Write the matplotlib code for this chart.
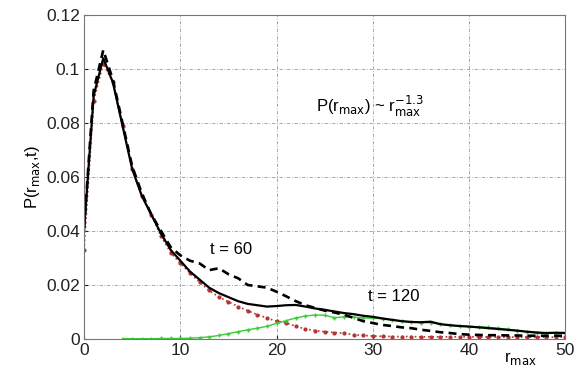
import numpy as np
import matplotlib
matplotlib.use("Agg")
from matplotlib import pyplot as plt

# r_max bins (0..50)
r = np.arange(0, 51)

# solid black curve
p_solid = [0.040, 0.090, 0.104, 0.095, 0.079, 0.063, 0.053, 0.046, 0.039, 0.033,
           0.029, 0.025, 0.022, 0.019, 0.017, 0.0155, 0.014, 0.013, 0.0125, 0.012,
           0.0122, 0.0125, 0.0126, 0.012, 0.0113, 0.0108, 0.0102, 0.0096, 0.0092, 0.0086,
           0.0082, 0.0076, 0.0071, 0.0066, 0.0063, 0.0062, 0.0064, 0.0055, 0.0051, 0.0048,
           0.0046, 0.0043, 0.0040, 0.0037, 0.0034, 0.0031, 0.0027, 0.0024, 0.0022, 0.0023,
           0.0022]

# dashed black curve
p_dashed = [0.041, 0.092, 0.107, 0.096, 0.080, 0.064, 0.054, 0.046, 0.040, 0.034,
            0.031, 0.029, 0.028, 0.0255, 0.0262, 0.024, 0.0225, 0.020, 0.0195, 0.019,
            0.0175, 0.0158, 0.014, 0.0125, 0.0115, 0.0105, 0.0098, 0.009, 0.0078, 0.0066,
            0.0059, 0.0052, 0.0048, 0.0043, 0.0040, 0.0034, 0.0030, 0.0025, 0.0022, 0.0018,
            0.0016, 0.0015, 0.0014, 0.0014, 0.0013, 0.0013, 0.0012, 0.0012, 0.0012, 0.0012,
            0.0012]

# red dotted curve
p_red = [0.033, 0.088, 0.102, 0.095, 0.079, 0.063, 0.053, 0.046, 0.038, 0.032,
         0.028, 0.0245, 0.021, 0.018, 0.0155, 0.0138, 0.012, 0.0105, 0.009, 0.0078,
         0.0065, 0.0060, 0.0047, 0.0037, 0.0031, 0.0027, 0.0024, 0.0021, 0.0016, 0.0013,
         0.0011, 0.0010, 0.0009, 0.0009, 0.0009, 0.0008, 0.0008, 0.0008, 0.0008, 0.0008,
         0.0008, 0.0008, 0.0007, 0.0007, 0.0007, 0.0007, 0.0007, 0.0007, 0.0007, 0.0007,
         0.0007]

# green curve (starts at r = 4)
r_green = np.arange(4, 51)
p_green = [0.0001, 0.0001, 0.0001, 0.0001, 0.0002, 0.0002, 0.0002, 0.0003,
           0.0005, 0.0008, 0.0013, 0.0020, 0.0027, 0.0034, 0.0040, 0.0047,
           0.0058, 0.0068, 0.0078, 0.0085, 0.0089, 0.0088, 0.0079, 0.0082, 0.0081, 0.0078,
           0.0077, 0.0075, 0.0070, 0.0066, 0.0062, 0.0061, 0.0060, 0.0055, 0.0050, 0.0048,
           0.0046, 0.0045, 0.0043, 0.0040, 0.0036, 0.0030, 0.0026, 0.0022, 0.0023, 0.0024,
           0.0024]

x_ticks = [0, 10, 20, 30, 40, 50]
y_ticks = [0, 0.02, 0.04, 0.06, 0.08, 0.1, 0.12]
y_tick_labels = ["0", "0.02", "0.04", "0.06", "0.08", "0.1", "0.12"]

plt.rcParams["font.family"] = ["Liberation Sans", "DejaVu Sans"]
plt.rcParams["font.size"] = 12

fig = plt.figure(figsize=(5.77, 3.71), dpi=100)
ax = fig.add_axes([0.1456, 0.0863, 0.8344, 0.8733])

ax.plot(r, p_red, ':', color="#b83232", lw=1.2, marker='.', ms=4)
ax.plot(r_green, p_green, '-', color="#3ccb3c", lw=1.0, marker='+', ms=3.5)
ax.plot(r, p_solid, '-', color="black", lw=1.6)
ax.plot(r, p_dashed, '--', color="black", lw=1.9, dashes=(3, 2))

ax.set_xlim(0, 50)
ax.set_ylim(0, 0.12)
ax.set_xticks(x_ticks)
ax.set_yticks(y_ticks)
ax.set_yticklabels(y_tick_labels)
ax.tick_params(direction="in", length=3, pad=3, labelsize=12.5, colors="#222222")
ax.grid(True, linestyle=(0, (4, 2, 1, 2)), color="#9a9a9a", lw=0.6)
for s in ax.spines.values():
    s.set_color("#777777")
    s.set_linewidth(0.8)

ax.set_ylabel(r"P(r$_{\rm max}$,t)", fontsize=12, labelpad=3)
ax.text(45.3, -0.004, r"r$_{\rm max}$", fontsize=12, ha="center", va="top")

ax.text(15.3, 0.033, "t = 60", fontsize=12, ha="center", va="center")
ax.text(32.2, 0.0156, "t = 120", fontsize=12, ha="center", va="center")
ax.text(29.7, 0.086, r"P(r$_{\rm max}$) ~ r$_{\rm max}^{-1.3}$",
        fontsize=12, ha="center", va="center")

fig.savefig("out.png", dpi=100)
